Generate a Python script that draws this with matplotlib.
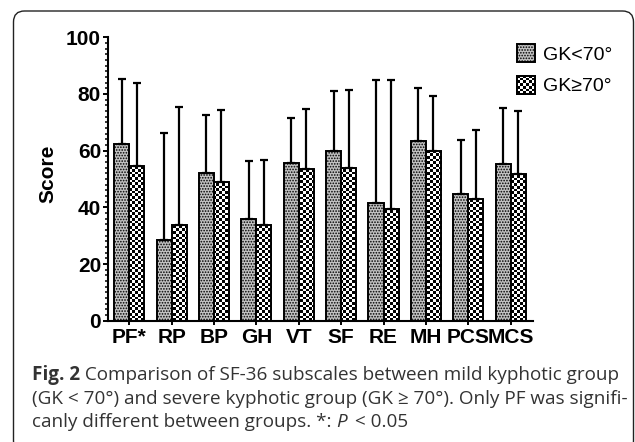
import numpy as np
import matplotlib
matplotlib.use("Agg")
import matplotlib.pyplot as plt
from matplotlib.patches import FancyBboxPatch, Patch
from matplotlib.transforms import IdentityTransform
from matplotlib.ticker import MultipleLocator

# ---- data ----
categories = ['PF*', 'RP', 'BP', 'GH', 'VT', 'SF', 'RE', 'MH', 'PCS', 'MCS']
mild_mean = [62.5, 28.5, 52.0, 35.8, 55.5, 59.8, 41.7, 63.5, 44.8, 55.2]
mild_sd = [22.9, 37.8, 20.7, 20.7, 16.2, 21.1, 43.3, 18.5, 19.0, 19.7]
severe_mean = [54.7, 33.6, 48.9, 33.6, 53.5, 54.0, 39.5, 59.8, 42.8, 51.8]
severe_sd = [29.1, 41.9, 25.4, 23.0, 21.1, 27.3, 45.5, 19.5, 24.5, 22.1]
series_labels = ['GK<70°', 'GK≥70°']
yticks = [0, 20, 40, 60, 80, 100]
ylabel = 'Score'
caption_lines = [
    [('Fig. 2', 'bold', 'normal'), (' Comparison of SF-36 subscales between mild kyphotic group', 'normal', 'normal')],
    [('(GK < 70°) and severe kyphotic group (GK ≥ 70°). Only PF was signifi-', 'normal', 'normal')],
    [('canly different between groups. *: ', 'normal', 'normal'), ('P', 'normal', 'italic'), (' < 0.05', 'normal', 'normal')],
]

W, H = 635, 442
fig = plt.figure(figsize=(W / 100, H / 100), dpi=100)
plt.rcParams['hatch.linewidth'] = 0.8
SQ = 2.7  # checker square size in pixels
G1_FACE = '#c2c2c2'
G1_HATCH = '......'


def checker(h_px, w_px):
    ny, nx = max(int(round(h_px / SQ)), 1), max(int(round(w_px / SQ)), 1)
    return (np.arange(ny)[:, None] + np.arange(nx)[None, :]) % 2


# rounded frame
frame = FancyBboxPatch((13.5, -10), 620, 442 - 11 + 10, boxstyle="round,pad=0,rounding_size=11",
                       transform=IdentityTransform(), fill=False, edgecolor='#222222', linewidth=1.0,
                       clip_on=False)
fig.patches.append(frame)

# axes placement (pixel based)
ax_l, ax_r, ax_b, ax_t = 108, 532.7, 442 - 320.7, 442 - 37.3
ax = fig.add_axes([ax_l / W, ax_b / H, (ax_r - ax_l) / W, (ax_t - ax_b) / H])

x = np.arange(len(categories))
w = 0.355
xlim = (-0.5, len(categories) - 1 + 0.52)
tick_font = dict(family=['Liberation Sans', 'DejaVu Sans'], weight='bold', size=15)

b1 = ax.bar(x - w / 2, mild_mean, w, facecolor=G1_FACE, edgecolor='black', linewidth=1.4,
            hatch=G1_HATCH, zorder=2)
b2 = ax.bar(x + w / 2, severe_mean, w, facecolor='white', edgecolor='none', zorder=2)
tex = checker(ax_t - ax_b, ax_r - ax_l)
for rect in b2.patches:
    im = ax.imshow(tex, cmap='gray', vmin=0, vmax=1, extent=(xlim[0], xlim[1], 0, 100),
                   origin='lower', aspect='auto', interpolation='nearest', zorder=2.1)
    im.set_clip_path(rect)
ax.bar(x + w / 2, severe_mean, w, fill=False, edgecolor='black', linewidth=1.4, zorder=2.2)

ax.errorbar(x - w / 2, mild_mean, yerr=[np.zeros(len(x)), mild_sd], fmt='none', ecolor='black',
            elinewidth=1.6, capsize=3, capthick=1.6, zorder=3)
ax.errorbar(x + w / 2, severe_mean, yerr=[np.zeros(len(x)), severe_sd], fmt='none', ecolor='black',
            elinewidth=1.6, capsize=3, capthick=1.6, zorder=3)

ax.set_xlim(*xlim)
ax.set_ylim(0, 100)
ax.set_yticks(yticks)
ax.yaxis.set_minor_locator(MultipleLocator(2))
ax.set_xticks(x)
ax.set_xticklabels(categories, fontdict=tick_font)
ax.set_yticklabels([str(v) for v in yticks], fontdict=tick_font)
for s in ['top', 'right']:
    ax.spines[s].set_visible(False)
for s in ['left', 'bottom']:
    ax.spines[s].set_linewidth(1.5)
ax.tick_params(axis='y', which='major', length=3.5, width=1.4, pad=1.5, direction='out')
ax.tick_params(axis='y', which='minor', length=2.5, width=1.1, direction='out')
ax.tick_params(axis='x', which='major', length=3, width=1.4, pad=2.5, direction='out')

fig.text(48 / W, 1 - 174 / H, ylabel, rotation=90, ha='center', va='center', **tick_font)

leg_handles = [Patch(facecolor=G1_FACE, edgecolor='black', linewidth=1.4, hatch=G1_HATCH),
               Patch(facecolor='white', edgecolor='black', linewidth=1.4)]
leg = fig.legend(leg_handles, series_labels, loc='upper left', bbox_to_anchor=(517 / W, 1 - 44 / H),
                 frameon=False, borderpad=0, borderaxespad=0, handlelength=0.9, handleheight=1.05,
                 handletextpad=0.45, labelspacing=0.62,
                 prop=dict(family=['Liberation Sans', 'DejaVu Sans'], size=14))

# caption, drawn as sequential runs in pixel coordinates
renderer = fig.canvas.get_renderer()
baselines = [380, 403.5, 427]
cap_family = ['Open Sans', 'DejaVu Sans']
for line, base in zip(caption_lines, baselines):
    cx = 32
    for s, wt, st in line:
        t = fig.text(cx, H - base, s, transform=IdentityTransform(), ha='left', va='baseline',
                     family=cap_family, weight=wt, style=st, size=13.6, color='#333333')
        cx += t.get_window_extent(renderer).width + (3 if st == 'italic' else 0)

# checker texture inside the second legend swatch
fig.canvas.draw()
p = leg.get_patches()[1]
bb = p.get_window_extent(renderer)
lax = fig.add_axes([bb.x0 / W, bb.y0 / H, bb.width / W, bb.height / H])
lax.set_zorder(10)
lax.imshow(checker(bb.height, bb.width), cmap='gray', vmin=0, vmax=1, aspect='auto',
           interpolation='nearest')
lax.set_xticks([])
lax.set_yticks([])
for s in lax.spines.values():
    s.set_linewidth(1.4)

fig.savefig('out.png', dpi=100)
